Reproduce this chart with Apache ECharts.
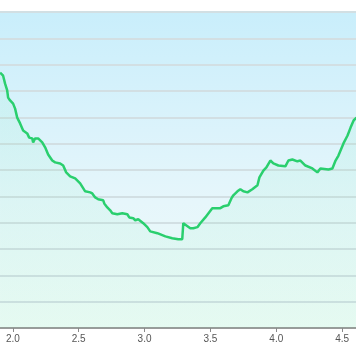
<!DOCTYPE html>
<html>
  <head>
    <meta charset="UTF-8" />
    <style>
      html, body { margin: 0; padding: 0; width: 100%; height: 100%; overflow: hidden; background: #fff; }
      #chart { width: 356px; height: 364px; }
    </style>
    <script src="https://cdn.jsdelivr.net/npm/echarts@6/dist/echarts.min.js"></script>
  </head>
  <body>
    <div id="chart"></div>
    <script>
      // x positions and values
      const xs = [1.903, 1.926, 1.941, 1.957, 1.964, 1.979, 2.002, 2.017, 2.033, 2.055,
        2.078, 2.109, 2.124, 2.147, 2.154, 2.169, 2.192, 2.223, 2.245, 2.268,
        2.299, 2.321, 2.359, 2.382, 2.405, 2.435, 2.473, 2.511, 2.549, 2.587,
        2.603, 2.625, 2.648, 2.686, 2.694, 2.717, 2.739, 2.755, 2.793, 2.831,
        2.869, 2.884, 2.914, 2.929, 2.952, 2.990, 3.021, 3.043, 3.097, 3.158,
        3.210, 3.256, 3.286, 3.294, 3.309, 3.347, 3.370, 3.401, 3.423, 3.461,
        3.514, 3.553, 3.575, 3.598, 3.636, 3.659, 3.674, 3.705, 3.727, 3.750,
        3.781, 3.818, 3.857, 3.872, 3.902, 3.925, 3.955, 3.978, 4.016, 4.069,
        4.092, 4.122, 4.160, 4.183, 4.221, 4.274, 4.312, 4.335, 4.396, 4.426,
        4.450, 4.472, 4.510, 4.541, 4.564, 4.587, 4.609];
      const ys = [9.70, 9.58, 9.28, 9.02, 8.75, 8.64, 8.52, 8.33, 7.99, 7.77,
        7.50, 7.39, 7.23, 7.20, 7.05, 7.20, 7.20, 7.05, 6.86, 6.59,
        6.36, 6.29, 6.25, 6.17, 5.91, 5.76, 5.68, 5.49, 5.19, 5.15,
        5.11, 4.96, 4.89, 4.85, 4.73, 4.58, 4.47, 4.36, 4.32, 4.36,
        4.32, 4.20, 4.17, 4.09, 4.13, 3.98, 3.83, 3.67, 3.60, 3.48,
        3.41, 3.37, 3.37, 3.98, 3.94, 3.79, 3.79, 3.83, 3.98, 4.20,
        4.55, 4.55, 4.55, 4.62, 4.66, 4.92, 5.04, 5.19, 5.27, 5.19,
        5.15, 5.27, 5.42, 5.72, 5.98, 6.10, 6.36, 6.25, 6.17, 6.14,
        6.36, 6.40, 6.33, 6.36, 6.17, 6.06, 5.91, 6.06, 6.02, 6.06,
        6.36, 6.55, 7.01, 7.31, 7.61, 7.88, 7.99];

      const chart = echarts.init(document.getElementById('chart'));

      const option = {
        animation: false,
        grid: {
          left: -53,
          right: -52,
          top: 12,
          bottom: 36,
          containLabel: false,
          outerBoundsMode: 'none',
          show: true,
          borderWidth: 0,
          backgroundColor: new echarts.graphic.LinearGradient(0, 0, 0, 1, [
            { offset: 0, color: '#c9eefb' },
            { offset: 0.6, color: '#e6f6fb' },
            { offset: 1, color: '#eefbf6' }
          ])
        },
        xAxis: {
          type: 'value',
          min: 1.5,
          max: 5.0,
          interval: 0.5,
          splitLine: { show: false },
          axisLine: { lineStyle: { color: '#9a9a9a', width: 2 } },
          axisTick: { show: true, length: 4, lineStyle: { color: '#8a8a8a' } },
          axisLabel: {
            color: '#555',
            fontSize: 10,
            margin: 6,
            formatter: v => v.toFixed(1)
          }
        },
        yAxis: {
          type: 'value',
          min: 0,
          max: 12,
          interval: 1,
          axisLine: { show: false },
          axisTick: { show: false },
          axisLabel: { show: false },
          splitLine: { lineStyle: { color: '#d2dfe3', width: 2 } }
        },
        series: [{
          type: 'line',
          data: xs.map((x, i) => [x, ys[i]]),
          showSymbol: false,
          lineStyle: { color: '#2acf6e', width: 2.5 },
          areaStyle: {
            color: new echarts.graphic.LinearGradient(0, 0, 0, 1, [
              { offset: 0, color: 'rgba(60, 230, 140, 0.10)' },
              { offset: 1, color: 'rgba(60, 230, 140, 0.07)' }
            ])
          }
        }]
      };

      chart.setOption(option);
    </script>
  </body>
</html>
